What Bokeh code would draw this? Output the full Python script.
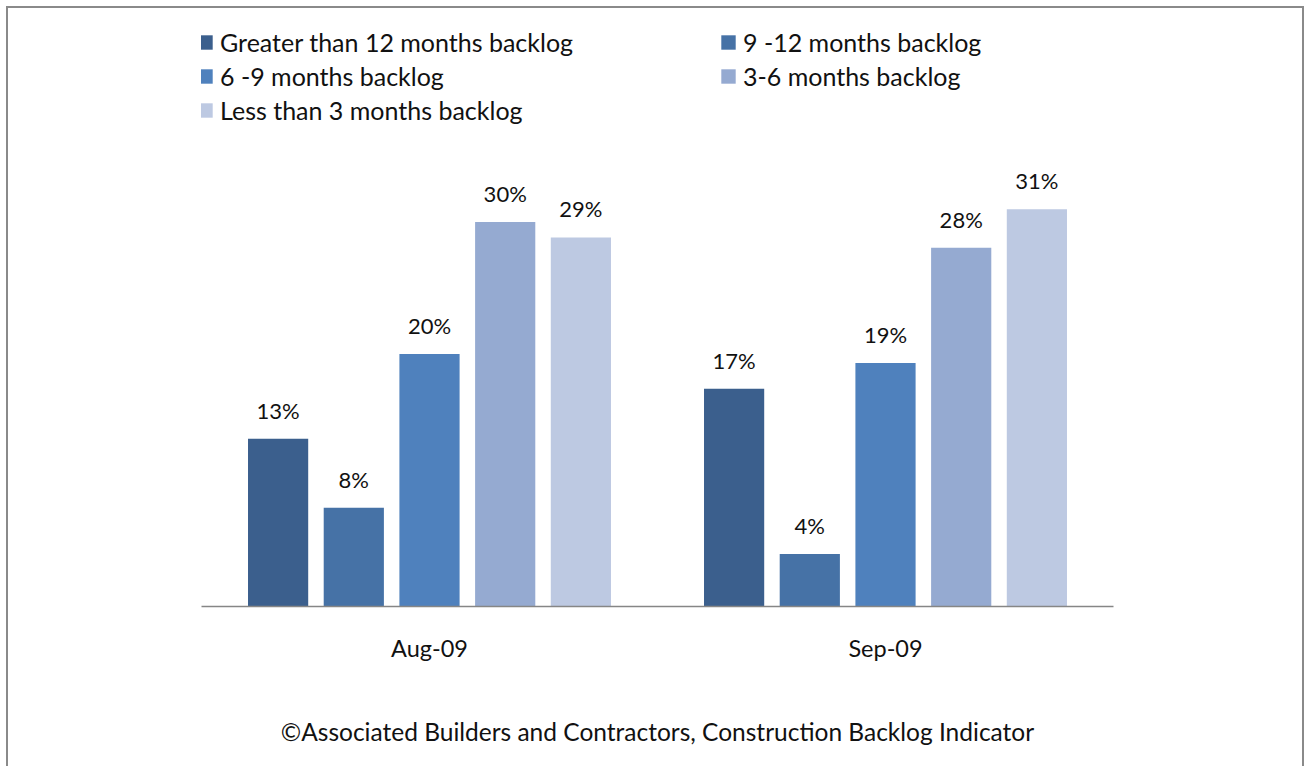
from bokeh.plotting import figure
from bokeh.models import FactorRange, Range1d, Legend, LegendItem, ColumnDataSource
from bokeh.transform import dodge
from bokeh.embed import file_html
from bokeh.resources import INLINE
from bokeh.core.properties import value

# ---- data ----
months = ["Aug-09", "Sep-09"]
series_names = [
    "Greater than 12 months backlog",
    "9 -12 months backlog",
    "6 -9 months backlog",
    "3-6 months backlog",
    "Less than 3 months backlog",
]
greater_12 = [13.1, 17.0]
m9_12 = [7.7, 4.1]
m6_9 = [19.7, 19.0]
m3_6 = [30.0, 28.0]
less_3 = [28.8, 31.0]
footer = "\u00a9Associated Builders and Contractors, Construction Backlog Indicator"

series_values = [greater_12, m9_12, m6_9, m3_6, less_3]
colors = ["#3B5F8D", "#4672A6", "#4F81BD", "#95AAD1", "#BDC9E2"]
offsets = [-0.332, -0.166, 0.0, 0.166, 0.332]

FONT = "Lato"
TXT = "#111111"

p = figure(
    width=1298, height=760,
    x_range=FactorRange(factors=months, range_padding=0.0),
    y_range=Range1d(0, 46.67),
    output_backend="svg", toolbar_location=None,
    min_border_left=193, min_border_right=193,
    min_border_top=0, min_border_bottom=162,
)
p.styles = {
    "border-top": "2px solid #8a8a8a",
    "border-left": "2px solid #8a8a8a",
    "border-right": "2px solid #8a8a8a",
    "margin-left": "6px",
    "margin-top": "6px",
}
p.outline_line_color = None
p.xgrid.visible = False
p.ygrid.visible = False
p.yaxis.visible = False
p.background_fill_color = "white"
p.border_fill_color = "white"

xa = p.xaxis[0]
xa.axis_line_color = "#868686"
xa.axis_line_width = 1.5
xa.major_tick_line_color = None
xa.minor_tick_line_color = None
xa.major_tick_out = 0
xa.major_label_standoff = 27
xa.major_label_text_font = FONT
xa.major_label_text_font_size = "23.5px"
xa.major_label_text_color = TXT
# source note sits under the category labels
xa.axis_label = footer
xa.axis_label_standoff = 52
xa.axis_label_text_font = FONT
xa.axis_label_text_font_size = "24.5px"
xa.axis_label_text_font_style = "normal"
xa.axis_label_text_color = TXT

renderers = []
for name, vals, col, off in zip(series_names, series_values, colors, offsets):
    src = ColumnDataSource(dict(
        month=months, v=vals, lab=[f"{round(v)}%" for v in vals]))
    r = p.vbar(x=dodge("month", off, range=p.x_range), top="v", width=0.132,
               source=src, fill_color=col, line_color=None)
    p.text(x=dodge("month", off, range=p.x_range), y="v", text="lab", source=src,
           text_align="center", text_baseline="bottom", y_offset=-15,
           text_font=value(FONT), text_font_size="22px", text_color=TXT)
    renderers.append(r)

def make_legend(idx, loc):
    lg = Legend(
        items=[LegendItem(label=series_names[i], renderers=[renderers[i]]) for i in idx],
        location=loc, orientation="vertical",
        glyph_width=18, glyph_height=18, label_standoff=6,
        label_height=24, spacing=4, padding=0, margin=0,
        border_line_color=None, background_fill_alpha=0,
        label_text_font=FONT, label_text_font_size="25px", label_text_color=TXT,
    )
    return lg

p.add_layout(make_legend([0, 2, 4], (-5, 481)))
p.add_layout(make_legend([1, 3], (518, 515)))

open("out.html", "w").write(file_html(p, INLINE))
